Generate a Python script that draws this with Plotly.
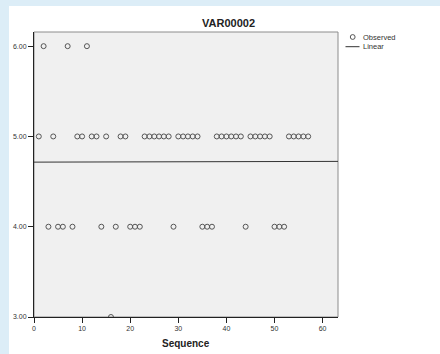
import numpy as np
import plotly.graph_objects as go

# Data: sequence index and observed VAR00002 value
sequence = list(range(1, 58))
observed = [5, 6, 4, 5, 4, 4, 6, 4, 5, 5,
            6, 5, 5, 4, 5, 3, 4, 5, 5, 4,
            4, 4, 5, 5, 5, 5, 5, 5, 4, 5,
            5, 5, 5, 5, 4, 4, 4, 5, 5, 5,
            5, 5, 5, 4, 5, 5, 5, 5, 5, 4,
            4, 4, 5, 5, 5, 5, 5]
x_ticks = [0, 10, 20, 30, 40, 50, 60]
y_ticks = [3, 4, 5, 6]
title_text = "VAR00002"
x_title = "Sequence"
legend_labels = ["Observed", "Linear"]

FONT = "Liberation Sans, Arial, sans-serif"
W, H = 440, 354
L, R, T, B = 34, 102, 32, 37
pw, ph = W - L - R, H - T - B

def px(xp):
    return (xp - L) / pw

def py(yp):
    return (H - B - yp) / ph

x_range = [0, 63.2]
y_range = [3, 6.157]

slope, intercept = np.polyfit(sequence, observed, 1)
fit_x = x_range
fit_y = [intercept + slope * v for v in fit_x]

fig = go.Figure()
fig.add_trace(go.Scatter(
    x=sequence, y=observed, mode="markers", name=legend_labels[0],
    marker=dict(symbol="circle-open", size=5, color="#555555",
                line=dict(width=1, color="#555555")),
    showlegend=False))
fig.add_trace(go.Scatter(
    x=fit_x, y=fit_y, mode="lines", name=legend_labels[1],
    line=dict(color="#333333", width=1), showlegend=False))

shapes = [
    # white panel over blue page background
    dict(type="rect", xref="paper", yref="paper", x0=px(9), x1=px(441),
         y0=py(355), y1=py(6), fillcolor="white", line=dict(width=0), layer="below"),
    # plot area
    dict(type="rect", xref="paper", yref="paper", x0=0, x1=1, y0=0, y1=1,
         fillcolor="#f0f0f0", line=dict(color="#8c8c8c", width=1), layer="below"),
    # legend line sample
    dict(type="line", xref="paper", yref="paper", x0=px(345.5), x1=px(359.5),
         y0=py(46.7), y1=py(46.7), line=dict(color="#333333", width=1)),
    # legend circle sample
    dict(type="circle", xref="paper", yref="paper", x0=px(350.3), x1=px(355.1),
         y0=py(39.4), y1=py(34.6), line=dict(color="#555555", width=1)),
]

annotations = [
    dict(text="<b>%s</b>" % title_text, xref="paper", yref="paper",
         x=px(228.5), y=py(23), showarrow=False, xanchor="center", yanchor="middle",
         font=dict(size=11, color="#222222", family=FONT)),
    dict(text="<b>%s</b>" % x_title, xref="paper", yref="paper",
         x=px(186), y=py(343), showarrow=False, xanchor="center", yanchor="middle",
         font=dict(size=10, color="#222222", family=FONT)),
    dict(text=legend_labels[0], xref="paper", yref="paper",
         x=px(360.5), y=py(37), showarrow=False, xanchor="left", yanchor="middle",
         font=dict(size=7.5, color="#333333", family=FONT)),
    dict(text=legend_labels[1], xref="paper", yref="paper",
         x=px(360.5), y=py(46.7), showarrow=False, xanchor="left", yanchor="middle",
         font=dict(size=7.5, color="#333333", family=FONT)),
]

fig.update_layout(
    width=W, height=H,
    margin=dict(l=L, r=R, t=T, b=B, pad=0),
    paper_bgcolor="#dcedf7",
    plot_bgcolor="rgba(0,0,0,0)",
    shapes=shapes, annotations=annotations,
    font=dict(family=FONT, size=7, color="#333333"),
    showlegend=False,
)
fig.update_xaxes(
    range=x_range, tickvals=x_ticks, ticks="outside", ticklen=5, tickwidth=1,
    tickcolor="#222222", showline=True, linecolor="#222222", linewidth=1,
    showgrid=False, zeroline=False, tickfont=dict(size=7, color="#333333"),
    fixedrange=True)
fig.update_yaxes(
    range=y_range, tickvals=y_ticks, tickformat=".2f", ticks="outside", ticklen=5,
    tickwidth=1, tickcolor="#222222", showline=True, linecolor="#222222", linewidth=1,
    showgrid=False, zeroline=False, tickfont=dict(size=7, color="#333333"),
    fixedrange=True)

fig.write_html(
    "out.html",
    config=dict(displayModeBar=False),
    post_script="document.body.style.margin='0';document.body.style.overflow='hidden';",
)
